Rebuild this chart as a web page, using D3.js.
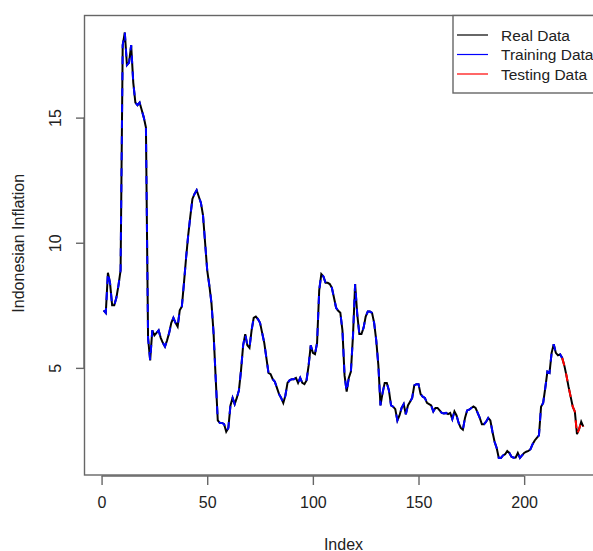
<html>
<head>
<meta charset="utf-8">
<script src="https://d3js.org/d3.v7.min.js"></script>
<style>
    body { margin: 0; background: #fff; }
    text { font-family: "Liberation Sans", Arial, sans-serif; fill: #222; }
</style>
</head>
<body>
<div id="chart"></div>
<script>
    // inflation values, index 1..228
    var inflation = [
        7.3, 7.2, 8.8, 8.4, 7.5, 7.5, 7.8, 8.3, 8.9, 17.9,
        18.4, 17.1, 17.2, 17.9, 16.4, 15.6, 15.5, 15.6, 15.3, 15.0,
        14.6, 6.2, 5.3, 6.5, 6.3, 6.4, 6.5, 6.2, 6.0, 5.85,
        6.1, 6.4, 6.8, 7.0, 6.8, 6.65, 7.3, 7.45, 8.4, 9.4,
        10.3, 11.05, 11.75, 11.95, 12.1, 11.85, 11.6, 11.1, 10.0, 8.9,
        8.3, 7.6, 6.4, 4.6, 2.9, 2.8, 2.8, 2.75, 2.45, 2.6,
        3.5, 3.8, 3.55, 3.8, 4.1, 4.9, 5.9, 6.35, 5.9, 5.8,
        6.5, 7.0, 7.05, 6.95, 6.8, 6.4, 6.0, 5.4, 4.8, 4.75,
        4.55, 4.45, 4.2, 3.95, 3.8, 3.6, 3.9, 4.4, 4.5, 4.55,
        4.55, 4.6, 4.4, 4.6, 4.4, 4.35, 4.5, 5.1, 5.9, 5.6,
        5.55, 6.0, 8.1, 8.75, 8.65, 8.4, 8.4, 8.35, 8.2, 7.8,
        7.4, 7.28, 7.2, 6.5, 4.7, 4.05, 4.6, 4.85, 6.3, 8.35,
        7.15, 6.35, 6.35, 6.6, 7.05, 7.25, 7.25, 7.2, 6.8, 6.1,
        5.1, 3.5, 4.0, 4.4, 4.4, 4.1, 3.5, 3.45, 3.35, 2.9,
        3.1, 3.4, 3.55, 3.15, 3.5, 3.65, 3.8, 4.3, 4.35, 4.35,
        3.95, 3.85, 3.8, 3.6, 3.55, 3.5, 3.26, 3.4, 3.4, 3.3,
        3.2, 3.18, 3.2, 3.15, 3.2, 2.95, 3.26, 3.1, 2.8, 2.6,
        2.53, 3.0, 3.3, 3.33, 3.4, 3.46, 3.4, 3.2, 3.0, 2.75,
        2.75, 2.85, 3.0, 2.9, 2.45, 2.05, 1.8, 1.4, 1.4, 1.5,
        1.55, 1.68, 1.6, 1.45, 1.41, 1.42, 1.6, 1.4, 1.5, 1.6,
        1.65, 1.68, 1.75, 1.95, 2.1, 2.2, 2.3, 3.45, 3.6, 4.2,
        4.85, 4.8, 5.6, 5.94, 5.6, 5.5, 5.54, 5.4, 5.1, 4.7,
        4.25, 3.85, 3.45, 3.25, 2.35, 2.55, 2.85, 2.65
    ];
    var trainEnd = 218;   // last training index (testing starts here)
    var xTicks = [0, 50, 100, 150, 200];
    var yTicks = [5, 10, 15];
    var legendLabels = ["Real Data", "Training Data", "Testing Data"];
    var legendColors = ["black", "blue", "red"];

    var data = inflation.map(function (v, i) { return { i: i + 1, v: v }; });
    var train = data.filter(function (d) { return d.i <= trainEnd; });
    var test = data.filter(function (d) { return d.i >= trainEnd; });

    var width = 593, height = 551;
    var pLeft = 84.5, pRight = 602.5, pTop = 15.5, pBottom = 475;

    // R style 4% padding on both axes
    var n = data.length;
    var xpad = 0.04 * (n - 1);
    var ext = d3.extent(inflation);
    var ypad = 0.04 * (ext[1] - ext[0]);
    var xs = d3.scaleLinear().domain([1 - xpad, n + xpad]).range([pLeft, pRight]);
    var ys = d3.scaleLinear().domain([ext[0] - ypad, ext[1] + ypad]).range([pBottom, pTop]);

    var svg = d3.select("#chart").append("svg")
        .attr("width", width)
        .attr("height", height);

    var line = d3.line()
        .x(function (d) { return xs(d.i); })
        .y(function (d) { return ys(d.v); });

    svg.append("path").datum(data)
        .attr("d", line).attr("fill", "none")
        .attr("stroke", "black").attr("stroke-width", 2);
    svg.append("path").datum(train)
        .attr("d", line).attr("fill", "none")
        .attr("stroke", "blue").attr("stroke-width", 2)
        .attr("stroke-dasharray", "8,8");
    svg.append("path").datum(test)
        .attr("d", line).attr("fill", "none")
        .attr("stroke", "red").attr("stroke-width", 2)
        .attr("stroke-dasharray", "8,8");

    // plot box
    svg.append("rect")
        .attr("x", pLeft).attr("y", pTop)
        .attr("width", pRight - pLeft).attr("height", pBottom - pTop)
        .attr("fill", "none").attr("stroke", "#666").attr("stroke-width", 1.4);

    // X axis
    var gx = svg.append("g")
        .attr("transform", "translate(0," + (pBottom + 1) + ")")
        .call(d3.axisBottom(xs).tickValues(xTicks).tickSize(9).tickPadding(12));
    gx.select(".domain")
        .attr("d", "M" + xs(xTicks[0]) + ",0H" + xs(xTicks[xTicks.length - 1]))
        .attr("stroke", "#666").attr("stroke-width", 1.4);
    gx.selectAll(".tick line").attr("stroke", "#666").attr("stroke-width", 1.4);
    gx.selectAll("text").style("font-size", "16px").attr("fill", "#222")
        .style("font-family", "'Liberation Sans', Arial, sans-serif");

    // Y axis
    var gy = svg.append("g")
        .attr("transform", "translate(" + (pLeft - 0.5) + ",0)")
        .call(d3.axisLeft(ys).tickValues(yTicks).tickSize(8).tickFormat(d3.format("d")));
    gy.select(".domain")
        .attr("d", "M0," + ys(yTicks[0]) + "V" + ys(yTicks[yTicks.length - 1]))
        .attr("stroke", "#666").attr("stroke-width", 1.4);
    gy.selectAll(".tick line").attr("stroke", "#666").attr("stroke-width", 1.4);
    gy.selectAll(".tick text")
        .attr("x", null).attr("dy", null)
        .attr("text-anchor", "middle")
        .attr("dominant-baseline", "central")
        .attr("transform", "translate(-29,0) rotate(-90)")
        .style("font-size", "16px").attr("fill", "#222")
        .style("font-family", "'Liberation Sans', Arial, sans-serif");

    // axis labels
    svg.append("text")
        .attr("x", (pLeft + pRight) / 2).attr("y", 544)
        .attr("text-anchor", "middle").attr("dominant-baseline", "central")
        .style("font-size", "16px")
        .text("Index");
    svg.append("text")
        .attr("transform", "translate(18," + ((pTop + pBottom) / 2 - 2) + ") rotate(-90)")
        .attr("text-anchor", "middle").attr("dominant-baseline", "central")
        .style("font-size", "16px")
        .text("Indonesian Inflation");

    // legend (top right)
    var lg = svg.append("g");
    lg.append("rect")
        .attr("x", 453).attr("y", pTop)
        .attr("width", pRight - 453).attr("height", 93 - pTop)
        .attr("fill", "white").attr("stroke", "#666").attr("stroke-width", 1.4);
    legendLabels.forEach(function (lab, k) {
        var yy = 35 + k * 19.5;
        lg.append("line")
            .attr("x1", 457).attr("x2", 488)
            .attr("y1", yy).attr("y2", yy)
            .attr("stroke", legendColors[k]).attr("stroke-width", 1.2);
        lg.append("text")
            .attr("x", 501).attr("y", yy)
            .attr("dominant-baseline", "central")
            .style("font-size", "15.5px")
            .text(lab);
    });
</script>
</body>
</html>
